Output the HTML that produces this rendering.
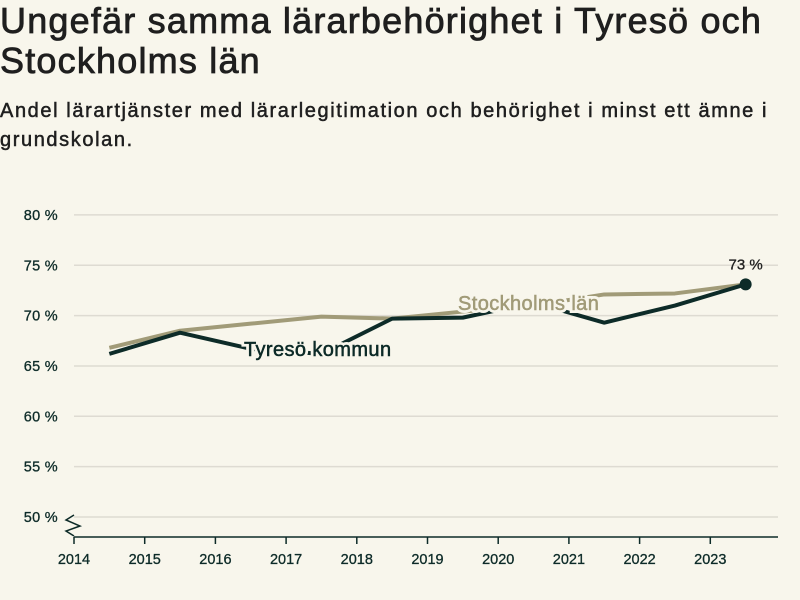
<!DOCTYPE html>
<html><head><meta charset="utf-8"><style>
body{margin:0;background:#f8f6ec;font-family:"Liberation Sans",sans-serif;color:#1f1f1f}
#w{position:relative;width:800px;height:600px;overflow:hidden}
h1{position:absolute;left:0;top:1px;width:800px;margin:0;font-size:36px;line-height:40px;font-weight:normal;letter-spacing:1.2px;-webkit-text-stroke:0.8px #1f1f1f}
h2{position:absolute;left:0;top:97px;width:790px;margin:0;font-size:20px;line-height:29px;font-weight:normal;letter-spacing:1.6px;-webkit-text-stroke:0.5px #1f1f1f}
</style></head><body><div id="w">
<h1>Ungefär samma lärarbehörighet i Tyresö och Stockholms län</h1>
<h2>Andel lärartjänster med lärarlegitimation och behörighet i minst ett ämne i grundskolan.</h2>
<svg id="c" width="800" height="600" style="position:absolute;left:0;top:0"></svg>
</div>
<script>
const years=[2014.5,2015.5,2016.5,2017.5,2018.5,2019.5,2020.5,2021.5,2022.5,2023.5];
const tyreso=[66.2,68.3,66.7,66.2,69.7,69.8,71.3,69.3,71.0,73.1];
const stockholm=[66.8,68.5,69.2,69.9,69.7,70.4,71.0,72.1,72.2,73.1];
const yTicks=[50,55,60,65,70,75,80];
const xTicks=[2014,2015,2016,2017,2018,2019,2020,2021,2022,2023];
const NS="http://www.w3.org/2000/svg";
const svg=document.getElementById('c');
const X=v=>74+(v-2014)*70.7;
const Y=v=>517-(v-50)*10.07;
function el(t,a,p){const e=document.createElementNS(NS,t);for(const k in a)e.setAttribute(k,a[k]);(p||svg).appendChild(e);return e;}
yTicks.forEach(t=>{
 const g=el('line',{x1:74,x2:778,y1:Y(t),y2:Y(t),stroke:'#dedbd2','stroke-width':1.5});
 
 
 const tx=el('text',{x:58,y:Y(t)+5,'text-anchor':'end','font-size':14.5,fill:'#0d2b28','letter-spacing':0.3,stroke:'#0d2b28','stroke-width':0.3});
 tx.textContent=t+' %';
 
 
});
const ax=el('line',{x1:74,x2:778,y1:537,y2:537,stroke:'#0d2b28','stroke-width':1.5});


const br=el('polyline',{points:'74,515 66,520 80,526 66,531 74,536',fill:'none',stroke:'#0d2b28','stroke-width':1.5});


xTicks.forEach(t=>{
 const l=el('line',{x1:X(t),x2:X(t),y1:537,y2:544,stroke:'#0d2b28','stroke-width':1.5});
 
 
 const tx=el('text',{x:X(t),y:564,'text-anchor':'middle','font-size':14.5,fill:'#0d2b28',stroke:'#0d2b28','stroke-width':0.3});
 tx.textContent=t;
 
 
});
function line(d,c,n){const p=el('polyline',{points:years.map((y,i)=>X(y)+','+Y(d[i])).join(' '),fill:'none',stroke:c,'stroke-width':4,'stroke-linejoin':'round'});
 
 }
line(stockholm,'#a19b78','line-stockholm');
line(tyreso,'#0d2b28','line-tyreso');
function lab(x,y,t,c,n){const e=el('text',{x:x,y:y,'font-size':20,'letter-spacing':0.4,fill:c,stroke:'#f8f6ec','stroke-width':6,'paint-order':'stroke'});e.textContent=t;
 
 
 const f=el('text',{x:x,y:y,'font-size':20,'letter-spacing':0.4,fill:c,stroke:c,'stroke-width':0.5});f.textContent=t;
 
 }
lab(244,356,'Tyresö kommun','#0d2b28','label-tyreso');
lab(458,310,'Stockholms län','#a19b78','label-stockholm');
const last=tyreso.length-1;
const dot=el('circle',{cx:X(years[last]),cy:Y(tyreso[last]),r:6,fill:'#0d2b28'});


const v=el('text',{x:X(years[last]),y:Y(tyreso[last])-15,'text-anchor':'middle','font-size':15,fill:'#1f1f1f',stroke:'#1f1f1f','stroke-width':0.3});
v.textContent=Math.round(tyreso[last])+' %';


</script></body></html>
